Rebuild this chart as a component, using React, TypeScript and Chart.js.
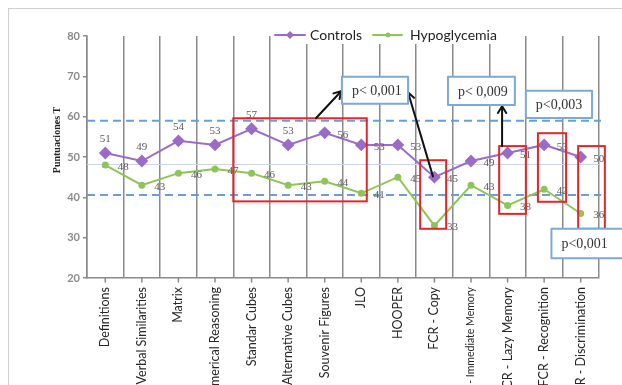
import React, { useEffect, useRef } from "react";
import { Chart, registerables } from "chart.js";

Chart.register(...registerables);

// Subtests of the neuropsychological battery
const categories = [
  "Definitions",
  "Verbal Similarities",
  "Matrix",
  "Numerical Reasoning",
  "Standar Cubes",
  "Alternative Cubes",
  "Souvenir Figures",
  "JLO",
  "HOOPER",
  "FCR - Copy",
  "FCR - Immediate Memory",
  "FCR - Lazy Memory",
  "FCR - Recognition",
  "FCR - Discrimination",
];

// T scores per group
const controls = [51, 49, 54, 53, 57, 53, 56, 53, 53, 45, 49, 51, 53, 50];
const hypoglycemia = [48, 43, 46, 47, 46, 43, 44, 41, 45, 33, 43, 38, 42, 36];

// Y axis ticks
const yTicks = [20, 30, 40, 50, 60, 70, 80];

// Reference lines (T score units)
const meanLine = 48.3;
const bandLines = [59.0, 40.6];

// Where each control value label sits relative to its point
const controlsLabelSide = [
  "top", "top", "top", "top", "top", "top",
  "right", "right", "right", "right", "right", "right", "right", "right",
];

// Highlight boxes: category index span and score span
const highlightBoxes = [
  { x0: 3.5, x1: 7.15, y0: 59.6, y1: 39.0 },
  { x0: 8.61, x1: 9.32, y0: 49.2, y1: 32.2 },
  { x0: 10.77, x1: 11.5, y0: 52.7, y1: 35.9 },
  { x0: 11.83, x1: 12.6, y0: 55.9, y1: 38.9 },
  { x0: 12.93, x1: 13.66, y0: 52.7, y1: 32.2 },
];

// Significance call-outs
const pBoxes = [
  { text: "p< 0,001", x0: 6.47, x1: 8.28, y0: 69.9, y1: 63.2 },
  { text: "p< 0,009", x0: 9.37, x1: 11.2, y0: 69.9, y1: 62.9 },
  { text: "p<0,003", x0: 11.5, x1: 13.31, y0: 66.4, y1: 59.7 },
  { text: "p<0,001", x0: 12.2, x1: 14.2, y0: 32.2, y1: 24.9 },
];

// Arrows from highlighted regions to their call-outs
const arrows = [
  { fx: 5.76, fy: 59.6, tx: 6.45, ty: 66.3 },
  { fx: 8.96, fy: 45.2, tx: 8.28, ty: 66.0 },
  { fx: 10.85, fy: 52.7, tx: 10.85, ty: 62.6 },
];

const PURPLE = "#9a6cc6";
const GREEN = "#8fc458";
const GRID = "#8a8a8a";

function xPix(chart: any, idx: number) {
  const xs = chart.scales.x;
  const a = xs.getPixelForValue(0);
  const b = xs.getPixelForValue(1);
  return a + (b - a) * idx;
}

const overlayPlugin = {
  id: "overlays",
  beforeDatasetsDraw(chart: any) {
    const { ctx, chartArea } = chart;
    const y = chart.scales.y;
    ctx.save();
    // mean line
    ctx.strokeStyle = "#c6d8ee";
    ctx.lineWidth = 1;
    const ym = Math.round(y.getPixelForValue(meanLine)) + 0.5;
    ctx.beginPath();
    ctx.moveTo(chartArea.left, ym);
    ctx.lineTo(chartArea.right, ym);
    ctx.stroke();
    // dashed band
    ctx.strokeStyle = "#6e9dd2";
    ctx.lineWidth = 2;
    ctx.setLineDash([8, 5]);
    bandLines.forEach((v) => {
      const yy = y.getPixelForValue(v);
      ctx.beginPath();
      ctx.moveTo(chartArea.left, yy);
      ctx.lineTo(chartArea.right + 2, yy);
      ctx.stroke();
    });
    ctx.restore();
  },
  afterDatasetsDraw(chart: any) {
    const { ctx, chartArea } = chart;
    const y = chart.scales.y;
    ctx.save();

    // value labels
    ctx.font = "11px 'Liberation Serif'";
    ctx.fillStyle = "#5a5a5a";
    ctx.textAlign = "center";
    ctx.textBaseline = "middle";
    const m0 = chart.getDatasetMeta(0).data;
    const m1 = chart.getDatasetMeta(1).data;
    controls.forEach((v, i) => {
      const p = m0[i];
      if (controlsLabelSide[i] === "top") ctx.fillText(String(v), p.x, p.y - 14);
      else ctx.fillText(String(v), p.x + 18, p.y + 2);
    });
    hypoglycemia.forEach((v, i) => {
      const p = m1[i];
      ctx.fillText(String(v), p.x + 18, p.y + 2);
    });

    // highlight boxes
    ctx.strokeStyle = "#e3262b";
    ctx.lineWidth = 2;
    highlightBoxes.forEach((b) => {
      const x0 = xPix(chart, b.x0);
      const x1 = xPix(chart, b.x1);
      const y0 = y.getPixelForValue(b.y0);
      const y1 = y.getPixelForValue(b.y1);
      ctx.strokeRect(x0, y0, x1 - x0, y1 - y0);
    });

    // arrows
    ctx.strokeStyle = "#111";
    ctx.lineWidth = 2;
    ctx.lineCap = "round";
    ctx.lineJoin = "round";
    arrows.forEach((a) => {
      const fx = xPix(chart, a.fx);
      const fy = y.getPixelForValue(a.fy);
      const tx = xPix(chart, a.tx);
      const ty = y.getPixelForValue(a.ty);
      ctx.beginPath();
      ctx.moveTo(fx, fy);
      ctx.lineTo(tx, ty);
      ctx.stroke();
      const ang = Math.atan2(ty - fy, tx - fx);
      const L = 8;
      ctx.beginPath();
      ctx.moveTo(tx - L * Math.cos(ang - 0.55), ty - L * Math.sin(ang - 0.55));
      ctx.lineTo(tx, ty);
      ctx.lineTo(tx - L * Math.cos(ang + 0.55), ty - L * Math.sin(ang + 0.55));
      ctx.stroke();
    });

    // p-value call-outs
    pBoxes.forEach((b) => {
      const x0 = xPix(chart, b.x0);
      const x1 = xPix(chart, b.x1);
      const y0 = y.getPixelForValue(b.y0);
      const y1 = y.getPixelForValue(b.y1);
      ctx.fillStyle = "#ffffff";
      ctx.fillRect(x0, y0, x1 - x0, y1 - y0);
      ctx.strokeStyle = "#7ea8d6";
      ctx.lineWidth = 2;
      ctx.strokeRect(x0, y0, x1 - x0, y1 - y0);
      ctx.fillStyle = "#333333";
      ctx.font = "14px 'Liberation Serif'";
      ctx.textAlign = "left";
      ctx.textBaseline = "middle";
      ctx.fillText(b.text, x0 + 10, (y0 + y1) / 2 + 1);
    });

    // legend
    ctx.fillStyle = "#ffffff";
    ctx.fillRect(274, 24, 226, 20);
    ctx.lineWidth = 2;
    ctx.strokeStyle = PURPLE;
    ctx.beginPath();
    ctx.moveTo(275, 35);
    ctx.lineTo(305, 35);
    ctx.stroke();
    ctx.fillStyle = PURPLE;
    ctx.beginPath();
    ctx.moveTo(290, 31);
    ctx.lineTo(294, 35);
    ctx.lineTo(290, 39);
    ctx.lineTo(286, 35);
    ctx.closePath();
    ctx.fill();
    ctx.strokeStyle = GREEN;
    ctx.beginPath();
    ctx.moveTo(373, 35);
    ctx.lineTo(402, 35);
    ctx.stroke();
    ctx.fillStyle = GREEN;
    ctx.beginPath();
    ctx.arc(388, 35, 2.5, 0, Math.PI * 2);
    ctx.fill();
    ctx.fillStyle = "#222";
    ctx.font = "14px Lato";
    ctx.textAlign = "left";
    ctx.textBaseline = "middle";
    ctx.fillText("Controls", 310, 35);
    ctx.fillText("Hypoglycemia", 410, 35);

    // y axis title
    ctx.save();
    ctx.translate(57, 140);
    ctx.rotate(-Math.PI / 2);
    ctx.font = "bold 10px 'Liberation Serif'";
    ctx.fillStyle = "#222";
    ctx.textAlign = "center";
    ctx.textBaseline = "middle";
    ctx.fillText("Puntuaciones T", 0, 0);
    ctx.restore();

    // category tick marks under the axis
    ctx.strokeStyle = GRID;
    ctx.lineWidth = 1.5;
    m0.forEach((p: any) => {
      ctx.beginPath();
      ctx.moveTo(p.x, chartArea.bottom);
      ctx.lineTo(p.x, chartArea.bottom + 4);
      ctx.stroke();
    });

    ctx.restore();
  },
};

export default function App() {
  const ref = useRef<HTMLCanvasElement | null>(null);

  useEffect(() => {
    if (!ref.current) return;
    const chart = new Chart(ref.current, {
      type: "line",
      data: {
        labels: categories,
        datasets: [
          {
            label: "Controls",
            data: controls,
            borderColor: PURPLE,
            backgroundColor: PURPLE,
            borderWidth: 2,
            pointStyle: "rectRot",
            pointRadius: 5,
            tension: 0,
          },
          {
            label: "Hypoglycemia",
            data: hypoglycemia,
            borderColor: GREEN,
            backgroundColor: GREEN,
            borderWidth: 2,
            pointStyle: "circle",
            pointRadius: 2.5,
            tension: 0,
          },
        ],
      },
      options: {
        responsive: false,
        animation: false,
        devicePixelRatio: 1,
        layout: { padding: { left: 0, top: 36, right: 23, bottom: 0 } },
        plugins: {
          legend: { display: false },
          tooltip: { enabled: false },
        },
        scales: {
          x: {
            offset: true,
            afterFit: (s: any) => {
              s.height = 107;
            },
            grid: {
              offset: true,
              color: GRID,
              lineWidth: 1.5,
              drawTicks: false,
            },
            border: { color: GRID, width: 1.5 },
            ticks: {
              autoSkip: false,
              minRotation: 90,
              maxRotation: 90,
              padding: 9,
              color: "#262626",
              font: (c: any) => ({
                family: "Lato",
                size: c.index === 10 ? 10.5 : 12.5,
              }),
            },
          },
          y: {
            min: 20,
            max: 80,
            afterFit: (s: any) => {
              s.width = 87;
            },
            afterBuildTicks: (s: any) => {
              s.ticks = yTicks.map((v) => ({ value: v }));
            },
            grid: {
              drawOnChartArea: false,
              color: GRID,
              lineWidth: 1.5,
              tickLength: 4,
            },
            border: { color: GRID, width: 1.5 },
            ticks: {
              padding: 3,
              color: "#8a8a8a",
              font: { family: "Lato", size: 11, weight: "bold" },
            },
          },
        },
      },
      plugins: [overlayPlugin],
    });
    return () => chart.destroy();
  }, []);

  return (
    <div
      style={{
        position: "fixed",
        left: 0,
        top: 0,
        width: 622,
        height: 385,
        overflow: "hidden",
        background: "#ffffff",
      }}
    >
      <div
        style={{
          position: "absolute",
          left: 8,
          top: 8,
          width: 700,
          height: 500,
          border: "1px solid #cfcfcf",
        }}
      />
      <canvas
        ref={ref}
        width={622}
        height={385}
        style={{ position: "absolute", left: 0, top: 0 }}
      />
    </div>
  );
}
